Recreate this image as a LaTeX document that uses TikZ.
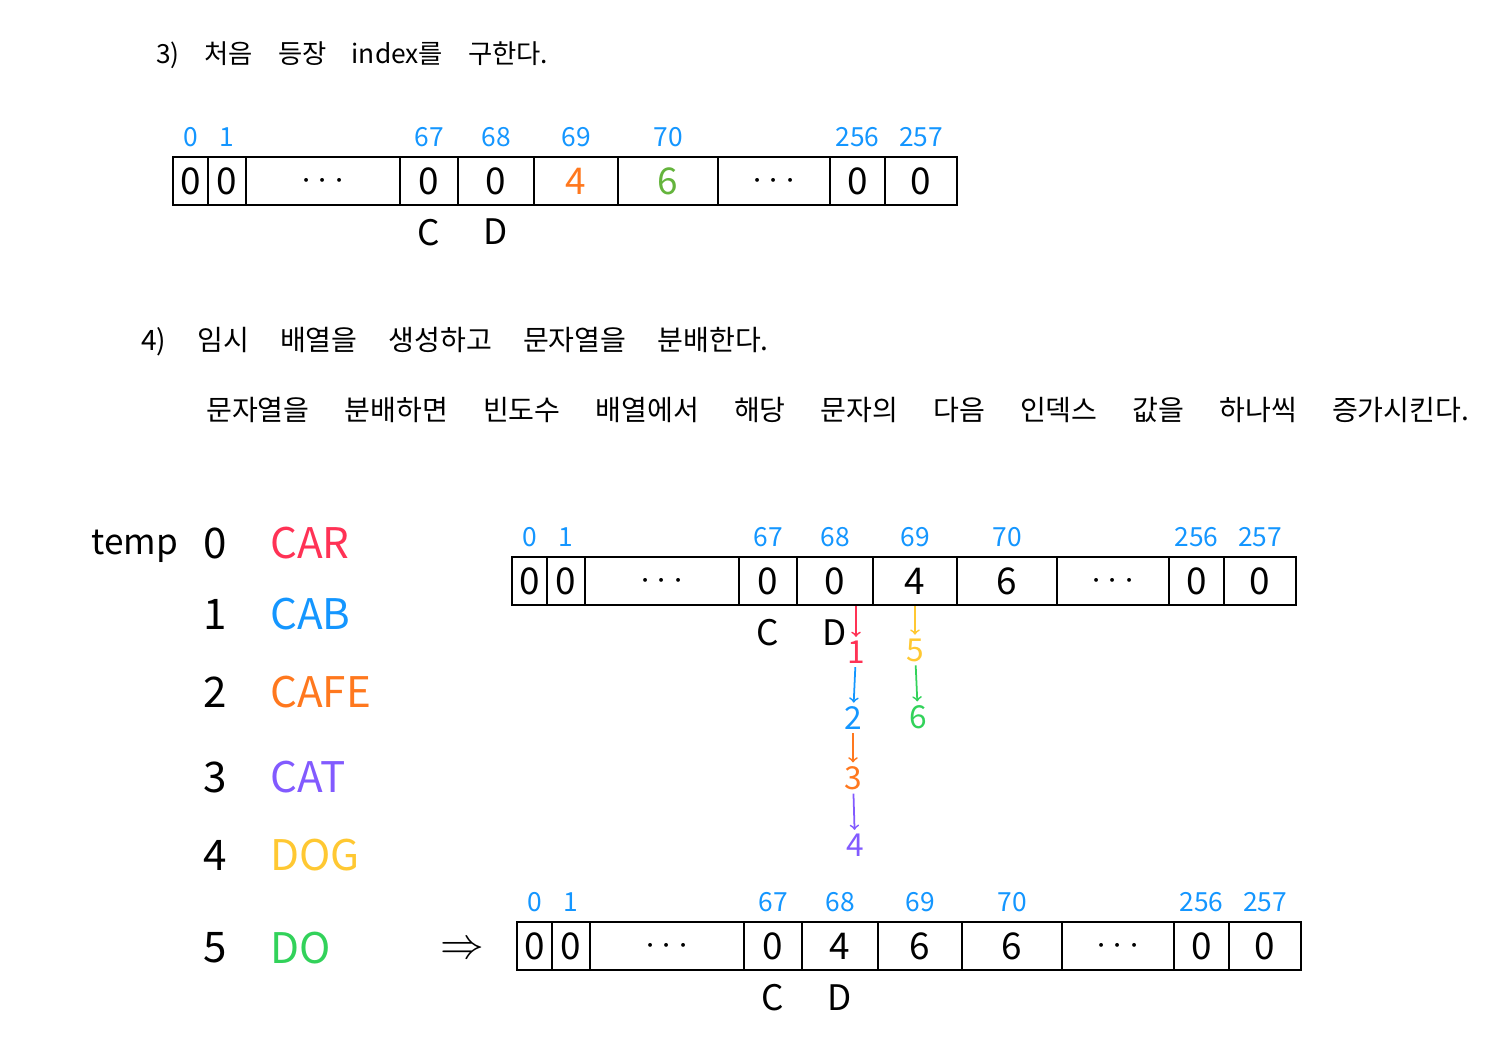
\documentclass[tikz,border=0pt]{standalone}
\usepackage{fontspec}
\setmainfont{Noto Sans CJK KR}
\usepackage{tikz}
\usetikzlibrary{arrows,positioning}
\definecolor{idxblue}{RGB}{20,150,255}
\definecolor{carred}{RGB}{255,50,85}
\definecolor{cabblue}{RGB}{20,150,255}
\definecolor{cafeorange}{RGB}{255,120,30}
\definecolor{catpurple}{RGB}{130,90,255}
\definecolor{dogyellow}{RGB}{255,200,50}
\definecolor{dogreen}{RGB}{50,210,90}
\definecolor{oldgreen}{RGB}{100,180,60}
\newcommand{\widesp}[1]{\spaceskip=#1\relax}
\tikzset{
	cell/.style={draw, line width=1.3pt, minimum height=0.96cm, inner sep=0pt,
		font=\fontsize{21}{24}\selectfont},
	idx/.style={text=idxblue, font=\fontsize{15}{16}\selectfont, inner sep=1pt},
	ltr/.style={font=\fontsize{20}{22}\selectfont, inner sep=1pt},
	note/.style={anchor=west, font=\fontsize{16}{19}\selectfont},
	word/.style={anchor=west, font=\fontsize{24}{26}\selectfont},
	num/.style={font=\fontsize{18}{20}\selectfont, inner sep=2pt},
	hop/.style={->, line width=1pt}
}

\begin{document}
\begin{tikzpicture}[x=0.02cm, y=-0.02cm]
	\useasboundingbox (0,0) rectangle (1511,1054);

	% step 3
	\node [note, font=\fontsize{15}{18}\selectfont] (title3) at (150,55)
		{\widesp{0.5cm}3) 처음 등장 index를 구한다.};
	\foreach \cx/\w/\v/\c [count=\i] in {17.5/35/0/black, 54/38/0/black,
			150/154/{$\cdots$}/black, 256/58/0/black, 323/76/0/black,
			403/84/4/cafeorange, 495/100/6/oldgreen, 601/112/{$\cdots$}/black,
			684.5/55/0/black, 748/72/0/black}
		\node [cell, minimum width=\w*0.02cm, text=\c] (a\i) at (\cx+173,181) {\v};
	\foreach \i/\lab in {1/0, 2/1, 4/67, 5/68, 6/69, 7/70, 9/256, 10/257}
		\node [idx, above=0.14cm of a\i] (a-l\i) {\lab};
	\node [ltr, below=0.22cm of a4] (aC) {C};
	\node [ltr, below=0.22cm of a5] (aD) {D};

	% step 4
	\node [note] (title4) at (135,342)
		{\widesp{0.62cm}4) 임시 배열을 생성하고 문자열을 분배한다.};
	\node [note] (desc4) at (200,410)
		{\widesp{0.7cm}문자열을 분배하면 빈도수 배열에서 해당 문자의 다음 인덱스 값을 하나씩 증가시킨다.};

	% temp array
	\node [font=\fontsize{20}{22}\selectfont] (temp) at (135,546) {temp};
	\foreach \y/\k/\s/\c [count=\i from 0] in {543/0/CAR/carred, 614/1/CAB/cabblue,
			692/2/CAFE/cafeorange, 777/3/CAT/catpurple, 855/4/DOG/dogyellow,
			948/5/DO/dogreen}
	{
		\node [font=\fontsize{24}{26}\selectfont] (t\i) at (215,\y) {\k};
		\node [word, text=\c] (w\i) at (264,\y) {\s};
	}

	% frequency array before
	\foreach \cx/\w/\v [count=\i] in {17.5/35/0, 54/38/0, 150/154/{$\cdots$},
			256/58/0, 323/76/0, 403/84/4, 495/100/6, 601/112/{$\cdots$},
			684.5/55/0, 748/72/0}
		\node [cell, minimum width=\w*0.02cm] (b\i) at (\cx+512,581) {\v};
	\foreach \i/\lab in {1/0, 2/1, 4/67, 5/68, 6/69, 7/70, 9/256, 10/257}
		\node [idx, above=0.14cm of b\i] (b-l\i) {\lab};
	\node [ltr, below=0.22cm of b4] (bC) {C};
	\node [ltr, below=0.22cm of b5] (bD) {D};

	% counting steps
	\node [num, text=carred] (n1) at (856,652) {1};
	\node [num, text=cabblue] (n2) at (853,718) {2};
	\node [num, text=cafeorange] (n3) at (853,778) {3};
	\node [num, text=catpurple] (n4) at (855,845) {4};
	\node [num, text=dogyellow] (m5) at (915,650) {5};
	\node [num, text=dogreen] (m6) at (918,717) {6};
	\draw [hop, carred] (b5.south -| n1) -- (n1);
	\draw [hop, cabblue] (n1) -- (n2);
	\draw [hop, cafeorange] (n2) -- (n3);
	\draw [hop, catpurple] (n3) -- (n4);
	\draw [hop, dogyellow] (b6.south -| m5) -- (m5);
	\draw [hop, dogreen] (m5) -- (m6);

	% frequency array after
	\node [font=\fontsize{24}{26}\selectfont] (imp) at (462,950) {$\Rightarrow$};
	\foreach \cx/\w/\v [count=\i] in {17.5/35/0, 54/38/0, 150/154/{$\cdots$},
			256/58/0, 323/76/4, 403/84/6, 495/100/6, 601/112/{$\cdots$},
			684.5/55/0, 748/72/0}
		\node [cell, minimum width=\w*0.02cm] (c\i) at (\cx+517,946) {\v};
	\foreach \i/\lab in {1/0, 2/1, 4/67, 5/68, 6/69, 7/70, 9/256, 10/257}
		\node [idx, above=0.14cm of c\i] (c-l\i) {\lab};
	\node [ltr, below=0.22cm of c4] (cC) {C};
	\node [ltr, below=0.22cm of c5] (cD) {D};
\end{tikzpicture}
\end{document}
